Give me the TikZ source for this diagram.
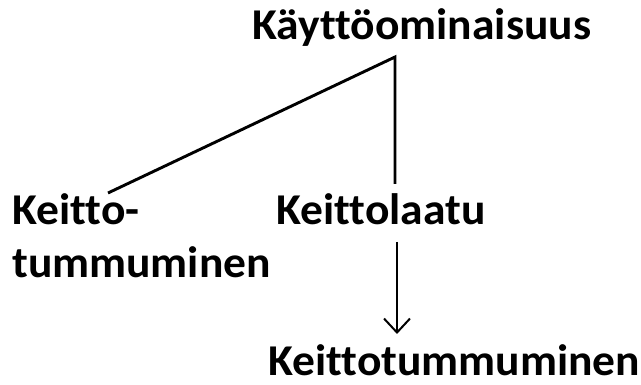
\documentclass[tikz,border=0pt]{standalone}
\usepackage{fontspec}
\usepackage{graphicx}
\setmainfont[Ligatures=NoCommon]{Carlito}
\usetikzlibrary{arrows.meta}
\newcommand{\wlbl}[1]{\scalebox{1.035}[1]{#1}}
\begin{document}
\begin{tikzpicture}[x=1pt,y=-1pt,
  lbl/.style={inner sep=0pt, anchor=base west, font=\fontsize{44}{52}\selectfont\bfseries},
  conn/.style={line width=2.9pt},
  arr/.style={line width=2pt, -{Straight Barb[length=14pt,width=26pt,line width=2pt]}}]
\useasboundingbox (0,0) rectangle (641,385);
\node[lbl] (top) at (252,40) {\wlbl{Käyttöominaisuus}};
\node[lbl] (kt1) at (12,225) {\wlbl{Keitto-}};
\node[lbl] (kt2) at (12,278) {\wlbl{tummuminen}};
\node[lbl] (kl) at (276,225) {\wlbl{Keittolaatu}};
\node[lbl] (ktm) at (268,375) {\wlbl{Keittotummuminen}};
\coordinate (apex) at (395,57);
\coordinate (leftend) at (108,193);
\coordinate (vend) at (395,184);
\coordinate (astart) at (397,242);
\coordinate (aend) at (397,334);
\draw[conn] (leftend) -- (apex) -- (vend);
\draw[arr] (astart) -- (aend);
\end{tikzpicture}
\end{document}
